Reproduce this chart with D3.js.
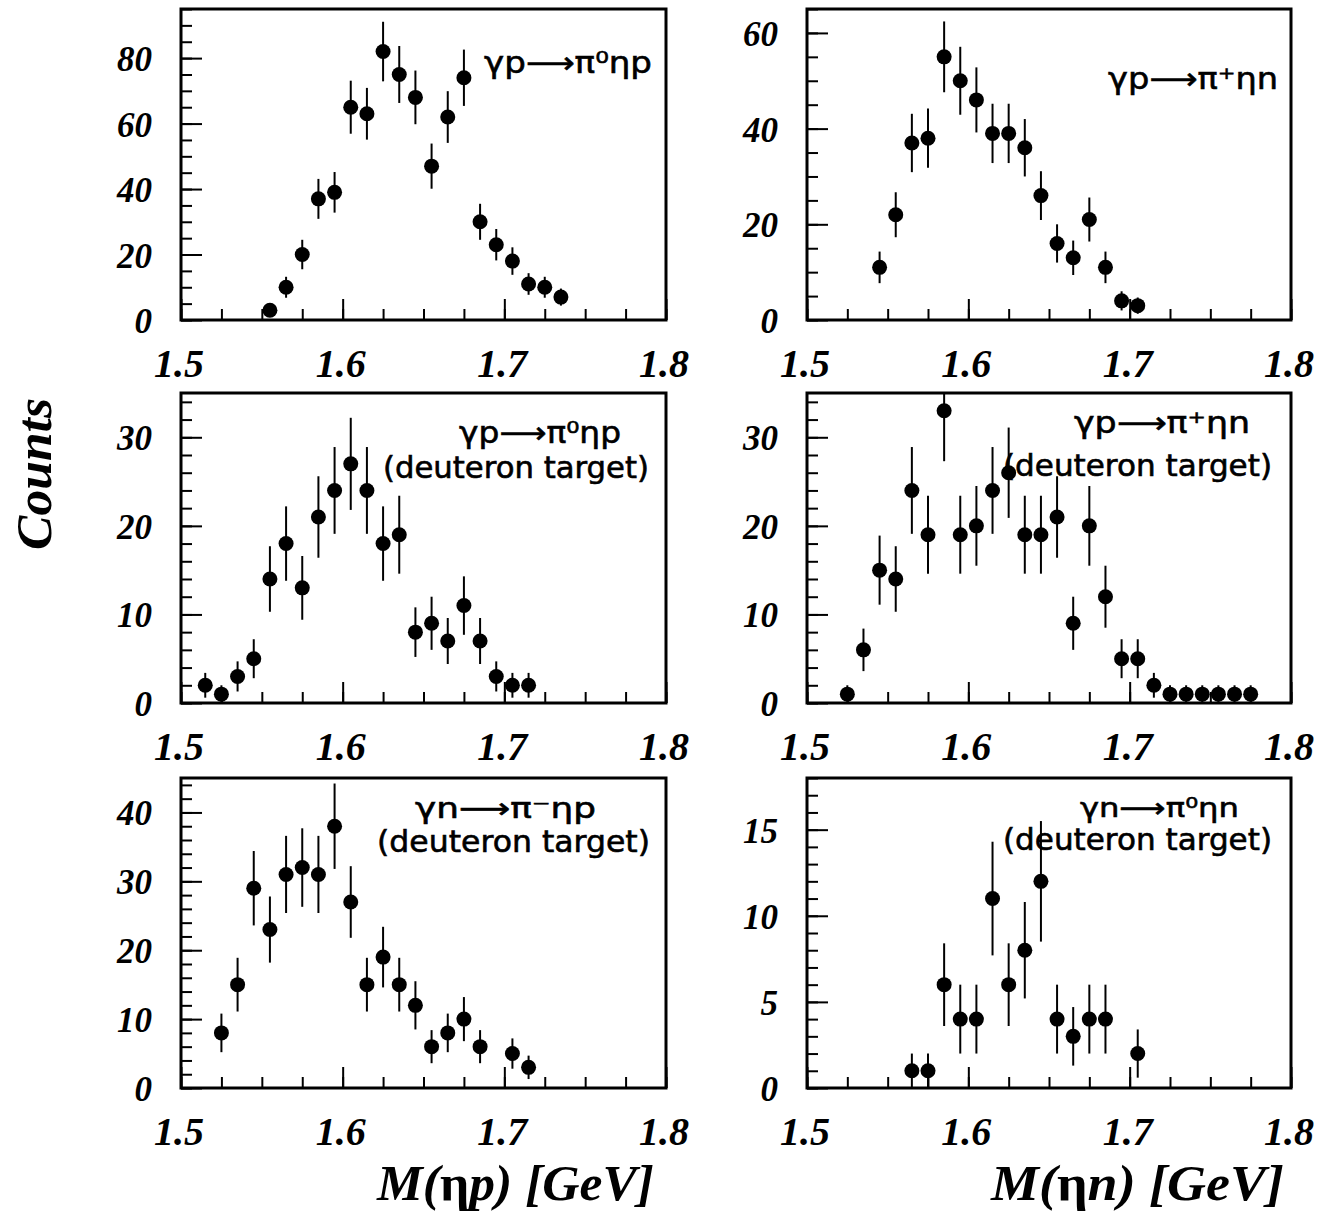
<!DOCTYPE html>
<html>
<head>
<meta charset="utf-8">
<script src="https://cdn.jsdelivr.net/npm/d3@7"></script>
<style>
  body { margin: 0; background: #fff; }
  svg { display: block; }
</style>
</head>
<body>
<svg id="fig" width="1322" height="1214"></svg>
<script>
// ---- data: invariant-mass spectra, bin centres in GeV, counts and errors ----
const xTickValues = [1.5, 1.6, 1.7, 1.8];
const xTickLabels = ["1.5", "1.6", "1.7", "1.8"];

// γp → π0ηp (proton target), M(ηp)
const p1Mass   = [1.555,1.565,1.575,1.585,1.595,1.605,1.615,1.625,1.635,1.645,1.655,1.665,1.675,1.685,1.695,1.705,1.715,1.725,1.735];
const p1Counts = [3,10,20,37,39,65,63,82,75,68,47,62,74,30,23,18,11,10,7];
const p1Err    = [1.7,3.2,4.5,6.1,6.2,8.1,7.9,9.1,8.7,8.2,6.9,7.9,8.6,5.5,4.8,4.2,3.3,3.2,2.6];
const p1YTicks = [0,20,40,60,80];

// γp → π+ηn (proton target), M(ηn)
const p2Mass   = [1.545,1.555,1.565,1.575,1.585,1.595,1.605,1.615,1.625,1.635,1.645,1.655,1.665,1.675,1.685,1.695,1.705];
const p2Counts = [11,22,37,38,55,50,46,39,39,36,26,16,13,21,11,4,3];
const p2Err    = [3.3,4.7,6.1,6.2,7.4,7.1,6.8,6.2,6.2,6.0,5.1,4.0,3.6,4.6,3.3,2.0,1.7];
const p2YTicks = [0,20,40,60];

// γp → π0ηp (deuteron target), M(ηp)
const p3Mass   = [1.515,1.525,1.535,1.545,1.555,1.565,1.575,1.585,1.595,1.605,1.615,1.625,1.635,1.645,1.655,1.665,1.675,1.685,1.695,1.705,1.715];
const p3Counts = [2,1,3,5,14,18,13,21,24,27,24,18,19,8,9,7,11,7,3,2,2];
const p3Err    = [1.4,1.0,1.7,2.2,3.7,4.2,3.6,4.6,4.9,5.2,4.9,4.2,4.4,2.8,3.0,2.6,3.3,2.6,1.7,1.4,1.4];
const p3YTicks = [0,10,20,30];

// γp → π+ηn (deuteron target), M(ηn)
const p4Mass   = [1.525,1.535,1.545,1.555,1.565,1.575,1.585,1.595,1.605,1.615,1.625,1.635,1.645,1.655,1.665,1.675,1.685,1.695,1.705,1.715,1.725,1.735,1.745,1.755,1.765,1.775];
const p4Counts = [1,6,15,14,24,19,33,19,20,24,26,19,19,21,9,20,12,5,5,2,1,1,1,1,1,1];
const p4Err    = [1.0,2.4,3.9,3.7,4.9,4.4,5.7,4.4,4.5,4.9,5.1,4.4,4.4,4.6,3.0,4.5,3.5,2.2,2.2,1.4,1.0,1.0,1.0,1.0,1.0,1.0];
const p4YTicks = [0,10,20,30];

// γn → π−ηp (deuteron target), M(ηp)
const p5Mass   = [1.525,1.535,1.545,1.555,1.565,1.575,1.585,1.595,1.605,1.615,1.625,1.635,1.645,1.655,1.665,1.675,1.685,1.705,1.715];
const p5Counts = [8,15,29,23,31,32,31,38,27,15,19,15,12,6,8,10,6,5,3];
const p5Err    = [2.8,3.9,5.4,4.8,5.6,5.7,5.6,6.2,5.2,3.9,4.4,3.9,3.5,2.4,2.8,3.2,2.4,2.2,1.7];
const p5YTicks = [0,10,20,30,40];

// γn → π0ηn (deuteron target), M(ηn)
const p6Mass   = [1.565,1.575,1.585,1.595,1.605,1.615,1.625,1.635,1.645,1.655,1.665,1.675,1.685,1.705];
const p6Counts = [1,1,6,4,4,11,6,8,12,4,3,4,4,2];
const p6Err    = [1.0,1.0,2.4,2.0,2.0,3.3,2.4,2.8,3.5,2.0,1.7,2.0,2.0,1.4];
const p6YTicks = [0,5,10,15];

const reactionLines = [
  ["γp⟶π⁰ηp"],
  ["γp⟶π⁺ηn"],
  ["γp⟶π⁰ηp", "(deuteron target)"],
  ["γp⟶π⁺ηn", "(deuteron target)"],
  ["γn⟶π⁻ηp", "(deuteron target)"],
  ["γn⟶π⁰ηn", "(deuteron target)"]
];

// ---- layout ----
const colX = [[181, 666], [807, 1291]];
const rowY = [[9, 320], [393, 703], [778, 1088]];

// per panel: y range, minor step, and where the reaction text sits (offset from frame top-right)
const panels = [
  {mass: p1Mass, counts: p1Counts, err: p1Err, yTicks: p1YTicks, yMax: 95, minor: 5, col: 0, row: 0,
   text: [{dx: -14, dy: 64, len: 168, fs: 30}]},
  {mass: p2Mass, counts: p2Counts, err: p2Err, yTicks: p2YTicks, yMax: 65, minor: 5, col: 1, row: 0,
   text: [{dx: -13, dy: 80, len: 170, fs: 30}]},
  {mass: p3Mass, counts: p3Counts, err: p3Err, yTicks: p3YTicks, yMax: 35, minor: 2, col: 0, row: 1,
   text: [{dx: -45, dy: 50, len: 162, fs: 30}, {dx: -17, dy: 85, len: 266, fs: 30}]},
  {mass: p4Mass, counts: p4Counts, err: p4Err, yTicks: p4YTicks, yMax: 35, minor: 2, col: 1, row: 1,
   text: [{dx: -41, dy: 40, len: 176, fs: 30}, {dx: -19, dy: 83, len: 269, fs: 30}]},
  {mass: p5Mass, counts: p5Counts, err: p5Err, yTicks: p5YTicks, yMax: 45, minor: 2, col: 0, row: 2,
   text: [{dx: -70, dy: 40, len: 181, fs: 28}, {dx: -16, dy: 74, len: 273, fs: 30}]},
  {mass: p6Mass, counts: p6Counts, err: p6Err, yTicks: p6YTicks, yMax: 18, minor: 1, col: 1, row: 2,
   text: [{dx: -52, dy: 39, len: 159, fs: 27}, {dx: -19, dy: 72, len: 269, fs: 30}]}
];

const svg = d3.select("#fig");
const serif = "'Liberation Serif', 'DejaVu Serif', serif";
const sans = "'DejaVu Sans', 'Noto Sans', sans-serif";

panels.forEach((p, i) => {
  const [x0, x1] = colX[p.col];
  const [y0, y1] = rowY[p.row];
  const x = d3.scaleLinear().domain([1.5, 1.8]).range([x0, x1]);
  const y = d3.scaleLinear().domain([0, p.yMax]).range([y1, y0]);

  const g = svg.append("g");

  // clip marks to the frame
  svg.append("clipPath").attr("id", "clip" + i)
    .append("rect").attr("x", x0).attr("y", y0).attr("width", x1 - x0).attr("height", y1 - y0);

  // minor and major ticks along the bottom (pointing into the frame)
  const xMinor = d3.range(1.5, 1.8001, 0.025);
  g.append("g").attr("transform", `translate(0,${y1})`)
    .call(d3.axisBottom(x).tickValues(xMinor).tickSizeInner(-11).tickSizeOuter(0).tickFormat(""))
    .call(a => a.select(".domain").remove())
    .call(a => a.selectAll("line").attr("stroke", "#000").attr("stroke-width", 2));
  g.append("g").attr("transform", `translate(0,${y1})`)
    .call(d3.axisBottom(x).tickValues(xTickValues).tickSizeInner(-21).tickSizeOuter(0).tickFormat(""))
    .call(a => a.select(".domain").remove())
    .call(a => a.selectAll("line").attr("stroke", "#000").attr("stroke-width", 2));

  // minor and major ticks along the left edge
  const yMinor = d3.range(0, p.yMax + 0.001, p.minor);
  g.append("g").attr("transform", `translate(${x0},0)`)
    .call(d3.axisLeft(y).tickValues(yMinor).tickSizeInner(-11).tickSizeOuter(0).tickFormat(""))
    .call(a => a.select(".domain").remove())
    .call(a => a.selectAll("line").attr("stroke", "#000").attr("stroke-width", 2));
  g.append("g").attr("transform", `translate(${x0},0)`)
    .call(d3.axisLeft(y).tickValues(p.yTicks).tickSizeInner(-21).tickSizeOuter(0).tickFormat(""))
    .call(a => a.select(".domain").remove())
    .call(a => a.selectAll("line").attr("stroke", "#000").attr("stroke-width", 2));

  // frame
  g.append("rect").attr("x", x0).attr("y", y0).attr("width", x1 - x0).attr("height", y1 - y0)
    .attr("fill", "none").attr("stroke", "#000").attr("stroke-width", 3);

  // y tick labels
  g.selectAll("text.ylab").data(p.yTicks).join("text").attr("class", "ylab")
    .attr("x", x0 - 29).attr("y", d => y(d) + 13)
    .attr("text-anchor", "end")
    .attr("font-family", serif).attr("font-style", "italic").attr("font-weight", "bold")
    .attr("font-size", 35)
    .text(d => d);

  // x tick labels
  g.selectAll("text.xlab").data(xTickValues).join("text").attr("class", "xlab")
    .attr("x", d => x(d) - 2).attr("y", y1 + 57)
    .attr("text-anchor", "middle")
    .attr("font-family", serif).attr("font-style", "italic").attr("font-weight", "bold")
    .attr("font-size", 40)
    .text((d, k) => xTickLabels[k]);

  // data: error bars and markers
  const pts = p.mass.map((m, k) => ({m, c: p.counts[k], e: p.err[k]}));
  const marks = g.append("g").attr("clip-path", `url(#clip${i})`);
  marks.selectAll("line.err").data(pts).join("line").attr("class", "err")
    .attr("x1", d => x(d.m)).attr("x2", d => x(d.m))
    .attr("y1", d => y(d.c - d.e)).attr("y2", d => y(d.c + d.e))
    .attr("stroke", "#000").attr("stroke-width", 2);
  marks.selectAll("circle").data(pts).join("circle")
    .attr("cx", d => x(d.m)).attr("cy", d => y(d.c)).attr("r", 7.5)
    .attr("fill", "#000");

  // reaction label
  p.text.forEach((t, k) => {
    g.append("text")
      .attr("x", x1 + t.dx).attr("y", y0 + t.dy)
      .attr("text-anchor", "end")
      .attr("font-family", sans).attr("font-size", t.fs)
      .attr("stroke", "#000").attr("stroke-width", 0.6)
      .attr("textLength", t.len).attr("lengthAdjust", "spacingAndGlyphs")
      .text(reactionLines[i][k]);
  });
});

// axis titles
const titleFont = g => g.attr("font-family", serif).attr("font-style", "italic").attr("font-weight", "bold");

const tl = svg.append("text").call(titleFont)
  .attr("x", 654).attr("y", 1200).attr("text-anchor", "end").attr("font-size", 50)
  .attr("textLength", 277).attr("lengthAdjust", "spacingAndGlyphs");
tl.append("tspan").text("M(");
tl.append("tspan").attr("font-style", "normal").text("η");
tl.append("tspan").text("p) [GeV]");

const tr = svg.append("text").call(titleFont)
  .attr("x", 1284).attr("y", 1200).attr("text-anchor", "end").attr("font-size", 50)
  .attr("textLength", 293).attr("lengthAdjust", "spacingAndGlyphs");
tr.append("tspan").text("M(");
tr.append("tspan").attr("font-style", "normal").text("η");
tr.append("tspan").text("n) [GeV]");

svg.append("text").call(titleFont)
  .attr("transform", "translate(51,474) rotate(-90)")
  .attr("text-anchor", "middle").attr("font-size", 50)
  .attr("textLength", 152).attr("lengthAdjust", "spacingAndGlyphs")
  .text("Counts");
</script>
</body>
</html>
